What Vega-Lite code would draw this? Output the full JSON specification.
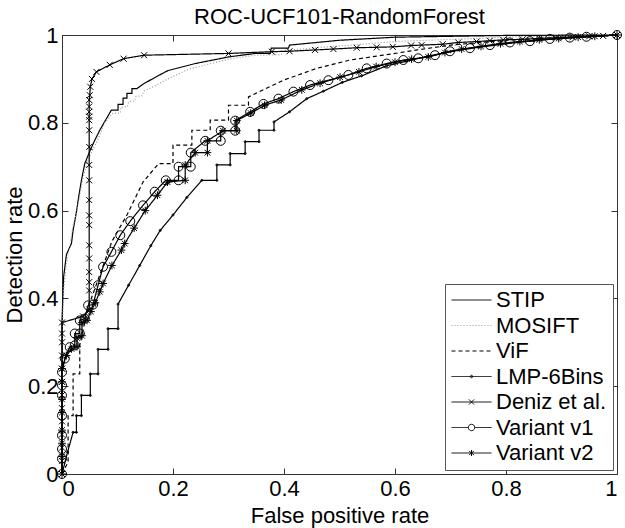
{
"$schema":"https://vega.github.io/schema/vega-lite/v6.json",
"width":555,"height":439,
"autosize":{"type":"none"},
"padding":{"left":62,"top":35,"right":8,"bottom":54},
"config":{"font":"Liberation Sans","view":{"stroke":"#333","strokeWidth":1},
 "axis":{"grid":false,"domain":false,"tickSize":-6,"tickColor":"#333","labelFontSize":22,"labelColor":"#000","titleFontSize":22,"titleFontWeight":"normal","titleColor":"#000","labelFont":"Liberation Sans","titleFont":"Liberation Sans"},
 "legend":{"orient":"bottom-right","offset":4,"padding":6,"strokeColor":"#555","fillColor":"#fff","symbolSize":1600,"symbolStrokeWidth":1,"labelFontSize":22,"labelFont":"Liberation Sans","labelColor":"#000","labelOffset":4,"rowPadding":3.5,"clipHeight":20,"symbolType":"stroke"}},
"title":{"text":"ROC-UCF101-RandomForest","fontSize":22,"fontWeight":"normal","font":"Liberation Sans","color":"#000","offset":-5},
"data":{"values":[
{"s":"STIP","x":0,"y":0},{"s":"STIP","x":0,"y":0.35},{"s":"STIP","x":0.003,"y":0.45},{"s":"STIP","x":0.008,"y":0.5},{"s":"STIP","x":0.017,"y":0.525},{"s":"STIP","x":0.02,"y":0.555},{"s":"STIP","x":0.026,"y":0.597},{"s":"STIP","x":0.03,"y":0.631},{"s":"STIP","x":0.035,"y":0.669},{"s":"STIP","x":0.041,"y":0.707},{"s":"STIP","x":0.051,"y":0.738},{"s":"STIP","x":0.059,"y":0.76},{"s":"STIP","x":0.068,"y":0.783},{"s":"STIP","x":0.078,"y":0.805},{"s":"STIP","x":0.089,"y":0.829},{"s":"STIP","x":0.101,"y":0.829},{"s":"STIP","x":0.101,"y":0.842},{"s":"STIP","x":0.11,"y":0.842},{"s":"STIP","x":0.11,"y":0.856},{"s":"STIP","x":0.117,"y":0.856},{"s":"STIP","x":0.117,"y":0.867},{"s":"STIP","x":0.126,"y":0.867},{"s":"STIP","x":0.126,"y":0.878},{"s":"STIP","x":0.135,"y":0.878},{"s":"STIP","x":0.146,"y":0.888},{"s":"STIP","x":0.17,"y":0.905},{"s":"STIP","x":0.191,"y":0.919},{"s":"STIP","x":0.24,"y":0.935},{"s":"STIP","x":0.3,"y":0.95},{"s":"STIP","x":0.348,"y":0.958},{"s":"STIP","x":0.375,"y":0.958},{"s":"STIP","x":0.377,"y":0.97},{"s":"STIP","x":0.408,"y":0.97},{"s":"STIP","x":0.41,"y":0.977},{"s":"STIP","x":0.5,"y":0.988},{"s":"STIP","x":0.6,"y":0.995},{"s":"STIP","x":0.8,"y":0.999},{"s":"STIP","x":1,"y":1},
{"s":"MOSIFT","x":0,"y":0},{"s":"MOSIFT","x":0,"y":0.3},{"s":"MOSIFT","x":0.003,"y":0.42},{"s":"MOSIFT","x":0.008,"y":0.48},{"s":"MOSIFT","x":0.014,"y":0.52},{"s":"MOSIFT","x":0.02,"y":0.565},{"s":"MOSIFT","x":0.027,"y":0.6},{"s":"MOSIFT","x":0.032,"y":0.635},{"s":"MOSIFT","x":0.037,"y":0.67},{"s":"MOSIFT","x":0.044,"y":0.705},{"s":"MOSIFT","x":0.054,"y":0.735},{"s":"MOSIFT","x":0.064,"y":0.76},{"s":"MOSIFT","x":0.077,"y":0.8},{"s":"MOSIFT","x":0.092,"y":0.822},{"s":"MOSIFT","x":0.105,"y":0.822},{"s":"MOSIFT","x":0.106,"y":0.835},{"s":"MOSIFT","x":0.118,"y":0.837},{"s":"MOSIFT","x":0.12,"y":0.848},{"s":"MOSIFT","x":0.131,"y":0.85},{"s":"MOSIFT","x":0.133,"y":0.86},{"s":"MOSIFT","x":0.145,"y":0.862},{"s":"MOSIFT","x":0.147,"y":0.872},{"s":"MOSIFT","x":0.161,"y":0.88},{"s":"MOSIFT","x":0.191,"y":0.9},{"s":"MOSIFT","x":0.228,"y":0.922},{"s":"MOSIFT","x":0.3,"y":0.945},{"s":"MOSIFT","x":0.348,"y":0.954},{"s":"MOSIFT","x":0.395,"y":0.955},{"s":"MOSIFT","x":0.4,"y":0.965},{"s":"MOSIFT","x":0.45,"y":0.97},{"s":"MOSIFT","x":0.6,"y":0.985},{"s":"MOSIFT","x":0.8,"y":0.995},{"s":"MOSIFT","x":1,"y":1},
{"s":"ViF","x":0,"y":0},{"s":"ViF","x":0.011,"y":0.027},{"s":"ViF","x":0.011,"y":0.133},{"s":"ViF","x":0.02,"y":0.133},{"s":"ViF","x":0.02,"y":0.228},{"s":"ViF","x":0.032,"y":0.228},{"s":"ViF","x":0.032,"y":0.293},{"s":"ViF","x":0.04,"y":0.34},{"s":"ViF","x":0.05,"y":0.39},{"s":"ViF","x":0.07,"y":0.46},{"s":"ViF","x":0.09,"y":0.53},{"s":"ViF","x":0.117,"y":0.59},{"s":"ViF","x":0.146,"y":0.665},{"s":"ViF","x":0.174,"y":0.707},{"s":"ViF","x":0.2,"y":0.707},{"s":"ViF","x":0.2,"y":0.749},{"s":"ViF","x":0.234,"y":0.749},{"s":"ViF","x":0.234,"y":0.783},{"s":"ViF","x":0.267,"y":0.783},{"s":"ViF","x":0.267,"y":0.806},{"s":"ViF","x":0.3,"y":0.806},{"s":"ViF","x":0.3,"y":0.84},{"s":"ViF","x":0.336,"y":0.84},{"s":"ViF","x":0.336,"y":0.859},{"s":"ViF","x":0.399,"y":0.897},{"s":"ViF","x":0.459,"y":0.924},{"s":"ViF","x":0.519,"y":0.943},{"s":"ViF","x":0.579,"y":0.954},{"s":"ViF","x":0.64,"y":0.966},{"s":"ViF","x":0.7,"y":0.977},{"s":"ViF","x":0.8,"y":0.988},{"s":"ViF","x":0.9,"y":0.995},{"s":"ViF","x":1,"y":1},
{"s":"LMP-6Bins","x":0,"y":0},{"s":"LMP-6Bins","x":0.01,"y":0.05},{"s":"LMP-6Bins","x":0.02,"y":0.095},{"s":"LMP-6Bins","x":0.026,"y":0.095},{"s":"LMP-6Bins","x":0.026,"y":0.133},{"s":"LMP-6Bins","x":0.035,"y":0.133},{"s":"LMP-6Bins","x":0.035,"y":0.179},{"s":"LMP-6Bins","x":0.051,"y":0.179},{"s":"LMP-6Bins","x":0.051,"y":0.228},{"s":"LMP-6Bins","x":0.065,"y":0.228},{"s":"LMP-6Bins","x":0.065,"y":0.284},{"s":"LMP-6Bins","x":0.083,"y":0.284},{"s":"LMP-6Bins","x":0.083,"y":0.331},{"s":"LMP-6Bins","x":0.101,"y":0.331},{"s":"LMP-6Bins","x":0.101,"y":0.387},{"s":"LMP-6Bins","x":0.12,"y":0.43},{"s":"LMP-6Bins","x":0.14,"y":0.475},{"s":"LMP-6Bins","x":0.16,"y":0.52},{"s":"LMP-6Bins","x":0.177,"y":0.555},{"s":"LMP-6Bins","x":0.2,"y":0.59},{"s":"LMP-6Bins","x":0.225,"y":0.63},{"s":"LMP-6Bins","x":0.252,"y":0.669},{"s":"LMP-6Bins","x":0.279,"y":0.669},{"s":"LMP-6Bins","x":0.279,"y":0.704},{"s":"LMP-6Bins","x":0.303,"y":0.704},{"s":"LMP-6Bins","x":0.303,"y":0.73},{"s":"LMP-6Bins","x":0.33,"y":0.73},{"s":"LMP-6Bins","x":0.33,"y":0.757},{"s":"LMP-6Bins","x":0.355,"y":0.757},{"s":"LMP-6Bins","x":0.355,"y":0.783},{"s":"LMP-6Bins","x":0.382,"y":0.783},{"s":"LMP-6Bins","x":0.382,"y":0.802},{"s":"LMP-6Bins","x":0.41,"y":0.825},{"s":"LMP-6Bins","x":0.441,"y":0.855},{"s":"LMP-6Bins","x":0.471,"y":0.872},{"s":"LMP-6Bins","x":0.505,"y":0.892},{"s":"LMP-6Bins","x":0.54,"y":0.907},{"s":"LMP-6Bins","x":0.585,"y":0.93},{"s":"LMP-6Bins","x":0.62,"y":0.94},{"s":"LMP-6Bins","x":0.66,"y":0.952},{"s":"LMP-6Bins","x":0.7,"y":0.962},{"s":"LMP-6Bins","x":0.75,"y":0.972},{"s":"LMP-6Bins","x":0.8,"y":0.98},{"s":"LMP-6Bins","x":0.85,"y":0.987},{"s":"LMP-6Bins","x":0.9,"y":0.992},{"s":"LMP-6Bins","x":0.95,"y":0.996},{"s":"LMP-6Bins","x":1,"y":1},
{"s":"Deniz et al.","x":0,"y":0},{"s":"Deniz et al.","x":0,"y":0.03},{"s":"Deniz et al.","x":0,"y":0.06},{"s":"Deniz et al.","x":0,"y":0.09},{"s":"Deniz et al.","x":0,"y":0.12},{"s":"Deniz et al.","x":0,"y":0.15},{"s":"Deniz et al.","x":0,"y":0.18},{"s":"Deniz et al.","x":0,"y":0.21},{"s":"Deniz et al.","x":0,"y":0.24},{"s":"Deniz et al.","x":0,"y":0.27},{"s":"Deniz et al.","x":0,"y":0.3},{"s":"Deniz et al.","x":0,"y":0.32},{"s":"Deniz et al.","x":0,"y":0.345},{"s":"Deniz et al.","x":0.038,"y":0.359},{"s":"Deniz et al.","x":0.049,"y":0.375},{"s":"Deniz et al.","x":0.049,"y":0.418},{"s":"Deniz et al.","x":0.049,"y":0.437},{"s":"Deniz et al.","x":0.049,"y":0.46},{"s":"Deniz et al.","x":0.049,"y":0.491},{"s":"Deniz et al.","x":0.049,"y":0.521},{"s":"Deniz et al.","x":0.049,"y":0.567},{"s":"Deniz et al.","x":0.049,"y":0.589},{"s":"Deniz et al.","x":0.049,"y":0.624},{"s":"Deniz et al.","x":0.049,"y":0.669},{"s":"Deniz et al.","x":0.049,"y":0.704},{"s":"Deniz et al.","x":0.049,"y":0.745},{"s":"Deniz et al.","x":0.049,"y":0.783},{"s":"Deniz et al.","x":0.049,"y":0.806},{"s":"Deniz et al.","x":0.049,"y":0.814},{"s":"Deniz et al.","x":0.049,"y":0.825},{"s":"Deniz et al.","x":0.049,"y":0.837},{"s":"Deniz et al.","x":0.049,"y":0.852},{"s":"Deniz et al.","x":0.05,"y":0.863},{"s":"Deniz et al.","x":0.051,"y":0.882},{"s":"Deniz et al.","x":0.054,"y":0.9},{"s":"Deniz et al.","x":0.062,"y":0.916},{"s":"Deniz et al.","x":0.086,"y":0.932},{"s":"Deniz et al.","x":0.111,"y":0.946},{"s":"Deniz et al.","x":0.148,"y":0.954},{"s":"Deniz et al.","x":0.3,"y":0.958},{"s":"Deniz et al.","x":0.378,"y":0.962},{"s":"Deniz et al.","x":0.41,"y":0.963},{"s":"Deniz et al.","x":0.456,"y":0.966},{"s":"Deniz et al.","x":0.489,"y":0.968},{"s":"Deniz et al.","x":0.531,"y":0.971},{"s":"Deniz et al.","x":0.567,"y":0.972},{"s":"Deniz et al.","x":0.596,"y":0.973},{"s":"Deniz et al.","x":0.629,"y":0.976},{"s":"Deniz et al.","x":0.648,"y":0.977},{"s":"Deniz et al.","x":0.686,"y":0.979},{"s":"Deniz et al.","x":0.714,"y":0.983},{"s":"Deniz et al.","x":0.747,"y":0.985},{"s":"Deniz et al.","x":0.771,"y":0.987},{"s":"Deniz et al.","x":0.795,"y":0.989},{"s":"Deniz et al.","x":0.83,"y":0.99},{"s":"Deniz et al.","x":0.86,"y":0.992},{"s":"Deniz et al.","x":0.89,"y":0.994},{"s":"Deniz et al.","x":0.92,"y":0.995},{"s":"Deniz et al.","x":0.95,"y":0.997},{"s":"Deniz et al.","x":0.975,"y":0.998},{"s":"Deniz et al.","x":1,"y":1},
{"s":"Variant v1","x":0,"y":0},{"s":"Variant v1","x":0,"y":0.035},{"s":"Variant v1","x":0,"y":0.057},{"s":"Variant v1","x":0,"y":0.088},{"s":"Variant v1","x":0,"y":0.133},{"s":"Variant v1","x":0,"y":0.179},{"s":"Variant v1","x":0,"y":0.202},{"s":"Variant v1","x":0,"y":0.232},{"s":"Variant v1","x":0.005,"y":0.263},{"s":"Variant v1","x":0.014,"y":0.289},{"s":"Variant v1","x":0.023,"y":0.293},{"s":"Variant v1","x":0.023,"y":0.32},{"s":"Variant v1","x":0.032,"y":0.32},{"s":"Variant v1","x":0.032,"y":0.35},{"s":"Variant v1","x":0.041,"y":0.354},{"s":"Variant v1","x":0.047,"y":0.384},{"s":"Variant v1","x":0.056,"y":0.386},{"s":"Variant v1","x":0.065,"y":0.43},{"s":"Variant v1","x":0.074,"y":0.472},{"s":"Variant v1","x":0.089,"y":0.506},{"s":"Variant v1","x":0.105,"y":0.544},{"s":"Variant v1","x":0.123,"y":0.576},{"s":"Variant v1","x":0.146,"y":0.612},{"s":"Variant v1","x":0.167,"y":0.643},{"s":"Variant v1","x":0.187,"y":0.669},{"s":"Variant v1","x":0.21,"y":0.669},{"s":"Variant v1","x":0.21,"y":0.7},{"s":"Variant v1","x":0.232,"y":0.7},{"s":"Variant v1","x":0.232,"y":0.732},{"s":"Variant v1","x":0.258,"y":0.759},{"s":"Variant v1","x":0.286,"y":0.759},{"s":"Variant v1","x":0.286,"y":0.782},{"s":"Variant v1","x":0.312,"y":0.782},{"s":"Variant v1","x":0.312,"y":0.805},{"s":"Variant v1","x":0.339,"y":0.825},{"s":"Variant v1","x":0.363,"y":0.843},{"s":"Variant v1","x":0.39,"y":0.855},{"s":"Variant v1","x":0.417,"y":0.871},{"s":"Variant v1","x":0.447,"y":0.886},{"s":"Variant v1","x":0.48,"y":0.897},{"s":"Variant v1","x":0.516,"y":0.909},{"s":"Variant v1","x":0.549,"y":0.924},{"s":"Variant v1","x":0.585,"y":0.935},{"s":"Variant v1","x":0.615,"y":0.943},{"s":"Variant v1","x":0.642,"y":0.947},{"s":"Variant v1","x":0.672,"y":0.954},{"s":"Variant v1","x":0.699,"y":0.963},{"s":"Variant v1","x":0.735,"y":0.97},{"s":"Variant v1","x":0.771,"y":0.977},{"s":"Variant v1","x":0.807,"y":0.983},{"s":"Variant v1","x":0.843,"y":0.986},{"s":"Variant v1","x":0.879,"y":0.991},{"s":"Variant v1","x":0.915,"y":0.994},{"s":"Variant v1","x":0.945,"y":0.996},{"s":"Variant v1","x":1,"y":1},
{"s":"Variant v2","x":0,"y":0},{"s":"Variant v2","x":0,"y":0.04},{"s":"Variant v2","x":0,"y":0.07},{"s":"Variant v2","x":0,"y":0.1},{"s":"Variant v2","x":0,"y":0.14},{"s":"Variant v2","x":0,"y":0.17},{"s":"Variant v2","x":0,"y":0.21},{"s":"Variant v2","x":0,"y":0.24},{"s":"Variant v2","x":0.008,"y":0.27},{"s":"Variant v2","x":0.017,"y":0.285},{"s":"Variant v2","x":0.027,"y":0.29},{"s":"Variant v2","x":0.027,"y":0.31},{"s":"Variant v2","x":0.036,"y":0.315},{"s":"Variant v2","x":0.036,"y":0.345},{"s":"Variant v2","x":0.045,"y":0.35},{"s":"Variant v2","x":0.052,"y":0.37},{"s":"Variant v2","x":0.06,"y":0.39},{"s":"Variant v2","x":0.068,"y":0.415},{"s":"Variant v2","x":0.074,"y":0.434},{"s":"Variant v2","x":0.09,"y":0.475},{"s":"Variant v2","x":0.107,"y":0.51},{"s":"Variant v2","x":0.113,"y":0.525},{"s":"Variant v2","x":0.13,"y":0.56},{"s":"Variant v2","x":0.15,"y":0.6},{"s":"Variant v2","x":0.172,"y":0.635},{"s":"Variant v2","x":0.19,"y":0.665},{"s":"Variant v2","x":0.222,"y":0.669},{"s":"Variant v2","x":0.222,"y":0.704},{"s":"Variant v2","x":0.24,"y":0.732},{"s":"Variant v2","x":0.262,"y":0.732},{"s":"Variant v2","x":0.262,"y":0.759},{"s":"Variant v2","x":0.29,"y":0.782},{"s":"Variant v2","x":0.315,"y":0.782},{"s":"Variant v2","x":0.315,"y":0.805},{"s":"Variant v2","x":0.34,"y":0.822},{"s":"Variant v2","x":0.365,"y":0.84},{"s":"Variant v2","x":0.395,"y":0.852},{"s":"Variant v2","x":0.432,"y":0.875},{"s":"Variant v2","x":0.465,"y":0.89},{"s":"Variant v2","x":0.501,"y":0.904},{"s":"Variant v2","x":0.535,"y":0.916},{"s":"Variant v2","x":0.566,"y":0.928},{"s":"Variant v2","x":0.6,"y":0.938},{"s":"Variant v2","x":0.63,"y":0.945},{"s":"Variant v2","x":0.66,"y":0.95},{"s":"Variant v2","x":0.69,"y":0.96},{"s":"Variant v2","x":0.72,"y":0.968},{"s":"Variant v2","x":0.755,"y":0.974},{"s":"Variant v2","x":0.79,"y":0.98},{"s":"Variant v2","x":0.825,"y":0.985},{"s":"Variant v2","x":0.86,"y":0.989},{"s":"Variant v2","x":0.895,"y":0.992},{"s":"Variant v2","x":0.93,"y":0.995},{"s":"Variant v2","x":0.96,"y":0.997},{"s":"Variant v2","x":1,"y":1}
]},
"layer":[
{"mark":{"type":"line","strokeWidth":1.2},
 "encoding":{
  "x":{"field":"x","type":"quantitative","scale":{"domain":[0,1],"nice":false},"axis":{"values":[0,0.2,0.4,0.6,0.8,1],"format":"~g","title":"False positive rate","labelPadding":10,"titlePadding":6}},
  "y":{"field":"y","type":"quantitative","scale":{"domain":[0,1],"nice":false},"axis":{"values":[0,0.2,0.4,0.6,0.8,1],"format":"~g","title":"Detection rate","labelPadding":10,"titlePadding":1}},
  "strokeDash":{"field":"s","type":"nominal","scale":{"domain":["STIP","MOSIFT","ViF","LMP-6Bins","Deniz et al.","Variant v1","Variant v2"],"range":[[1,0],[1,2],[4,3],[1,0],[1,0],[1,0],[1,0]]},
   "legend":{"title":null,"encode":{"symbols":{"update":{"fill":{"value":"transparent"},"shape":{"signal":"datum.value === 'LMP-6Bins' ? 'M-1,0L1,0M0.06,0A0.06,0.06 0 1,1 -0.06,0A0.06,0.06 0 1,1 0.06,0' : datum.value === 'Deniz et al.' ? 'M-1,0L1,0M-0.13,-0.13L0.13,0.13M-0.13,0.13L0.13,-0.13' : datum.value === 'Variant v1' ? 'M-1,0L-0.16,0M0.16,0L1,0M0.16,0A0.16,0.16 0 1,1 -0.16,0A0.16,0.16 0 1,1 0.16,0' : datum.value === 'Variant v2' ? 'M-1,0L1,0M0,-0.15L0,0.15M-0.13,-0.1L0.13,0.1M-0.13,0.1L0.13,-0.1' : 'M-1,0L1,0'"}}}}}},
  "stroke":{"field":"s","type":"nominal","scale":{"domain":["STIP","MOSIFT","ViF","LMP-6Bins","Deniz et al.","Variant v1","Variant v2"],"range":["#000","#999","#000","#000","#000","#000","#000"]},
   "legend":{"title":null,"encode":{"symbols":{"update":{"fill":{"value":"transparent"},"shape":{"signal":"datum.value === 'LMP-6Bins' ? 'M-1,0L1,0M0.06,0A0.06,0.06 0 1,1 -0.06,0A0.06,0.06 0 1,1 0.06,0' : datum.value === 'Deniz et al.' ? 'M-1,0L1,0M-0.13,-0.13L0.13,0.13M-0.13,0.13L0.13,-0.13' : datum.value === 'Variant v1' ? 'M-1,0L-0.16,0M0.16,0L1,0M0.16,0A0.16,0.16 0 1,1 -0.16,0A0.16,0.16 0 1,1 0.16,0' : datum.value === 'Variant v2' ? 'M-1,0L1,0M0,-0.15L0,0.15M-0.13,-0.1L0.13,0.1M-0.13,0.1L0.13,-0.1' : 'M-1,0L1,0'"}}}}}},
  "order":{"value":null}}},
{"transform":[{"filter":{"field":"s","oneOf":["LMP-6Bins","Deniz et al.","Variant v1","Variant v2"]}}],
 "mark":{"type":"point","filled":false,"strokeWidth":1,"opacity":1,"size":36,"color":"#000"},
 "encoding":{
  "x":{"field":"x","type":"quantitative","axis":{"orient":"top","labels":false,"title":null,"values":[0,0.2,0.4,0.6,0.8,1]}},
  "y":{"field":"y","type":"quantitative","axis":{"orient":"right","labels":false,"title":null,"values":[0,0.2,0.4,0.6,0.8,1]}},
  "shape":{"field":"s","type":"nominal","scale":{"domain":["LMP-6Bins","Deniz et al.","Variant v1","Variant v2"],"range":["M0.35,0A0.35,0.35 0 1,1 -0.35,0A0.35,0.35 0 1,1 0.35,0","M-1,-1L1,1M-1,1L1,-1","M1.5,0A1.5,1.5 0 1,1 -1.5,0A1.5,1.5 0 1,1 1.5,0","M-1.3,0L1.3,0M0,-1.3L0,1.3M-0.95,-0.95L0.95,0.95M-0.95,0.95L0.95,-0.95"]},"legend":null}}}
],
"resolve":{"axis":{"x":"independent","y":"independent"}}
}
